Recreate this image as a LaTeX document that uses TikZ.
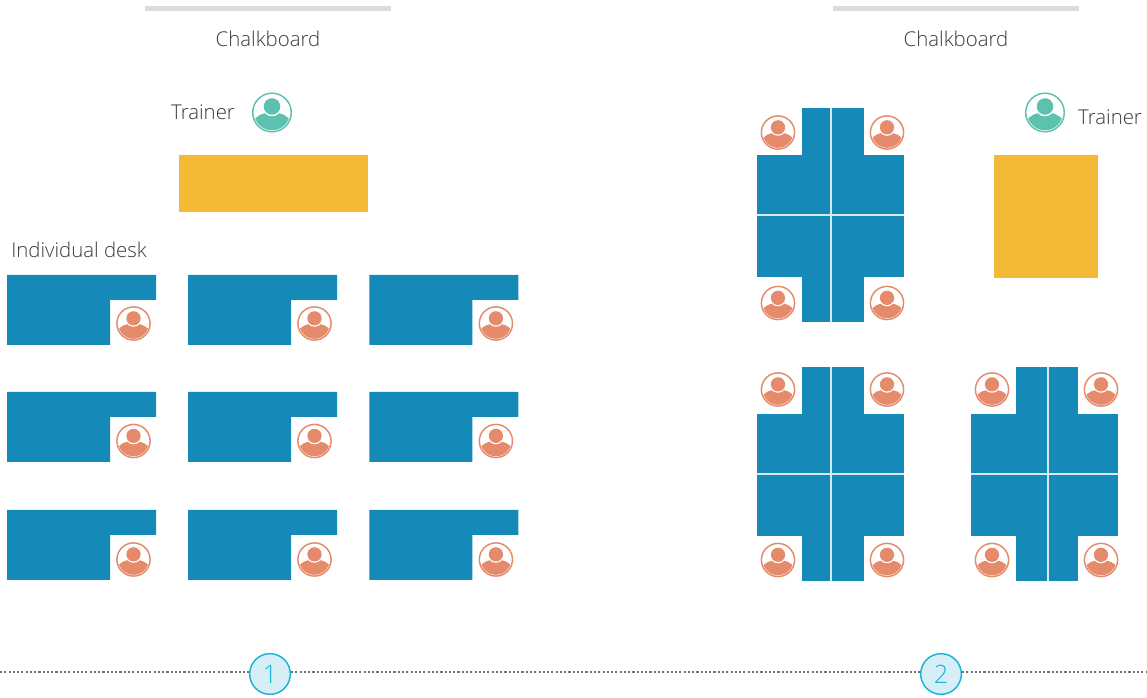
\documentclass[tikz,border=0pt]{standalone}
\usepackage{fontspec}
\setmainfont{Open Sans}[UprightFont=* Light]
\definecolor{deskblue}{HTML}{1589B8}
\definecolor{trainerdesk}{HTML}{F4BA36}
\definecolor{salmon}{HTML}{E58A6B}
\definecolor{teal}{HTML}{5CC1AE}
\definecolor{board}{HTML}{DCDCDC}
\definecolor{txt}{HTML}{3A3A3A}
\definecolor{cyanline}{HTML}{19B5D6}
\definecolor{cyanfill}{HTML}{D6EEF6}
\tikzset{
  lbl/.style={font=\fontsize{15.3}{18}\selectfont,text=txt,inner sep=0pt},
  person/.pic={
    \draw[line width=1.1pt,draw=pcol,fill=white] (0,0) circle[radius=19.3];
    \begin{scope}
      \clip (0,0) circle[radius=17.8];
      \fill[pcol] (-24,24) -- (-20,10) .. controls (-16,3) and (-9,0) .. (0,0) .. controls (9,0) and (16,3) .. (20,10) -- (24,24) -- cycle;
    \end{scope}
    \fill[white] (0,-6) circle[radius=9.8];
    \fill[pcol] (0,-6) circle[radius=8.3];
  },
  sal/.style={scale=.86,/utils/exec={\colorlet{pcol}{salmon}}},
  tea/.style={/utils/exec={\colorlet{pcol}{teal}}},
  numc/.style={circle,draw=cyanline,fill=cyanfill,line width=1.1pt,minimum size=30.5pt,inner sep=0pt,text=cyanline,font=\fontsize{19}{22}\selectfont},
  dotline/.style={dash pattern=on 1.6pt off 1.6pt,draw=black!55,line width=.8pt},
  wline/.style={draw=white!82!deskblue,line width=1.3pt},
}
\newcommand{\desk}[2]{%
  \fill[deskblue] (#1,#2) -- ++(149,0) -- ++(0,25) -- ++(-46,0) -- ++(0,45) -- ++(-103,0) -- cycle;
}
\newcommand{\cluster}[5]{% x y whiteline-x person-top-y person-bottom-y
  \fill[deskblue] (#1+45,#2) rectangle (#1+107,#2+214);
  \fill[deskblue] (#1,#2+47) rectangle (#1+147,#2+169);
  \draw[wline] (#3,#2) -- (#3,#2+214);
  \draw[wline] (#1,#2+107) -- (#1+147,#2+107);
  \pic[sal] at (#1+21,#4) {person};
  \pic[sal] at (#1+130,#4) {person};
  \pic[sal] at (#1+21,#5) {person};
  \pic[sal] at (#1+130,#5) {person};
}
\begin{document}
\begin{tikzpicture}[x=0.75pt,y=-0.75pt]
\useasboundingbox (0,0) rectangle (1147,698);
% chalkboards
\fill[board] (145,6) rectangle (391,11);
\fill[board] (833,6) rectangle (1079,11);
\node[lbl] (c1) at (268,39) {Chalkboard};
\node[lbl] (c2) at (956,39) {Chalkboard};
% trainers
\node[lbl] (t1) at (203,112) {Trainer};
\node[lbl] (t2) at (1110,117) {Trainer};
\pic[tea] at (272,112.5) {person};
\pic[tea] at (1045,112.5) {person};
% trainer desks
\fill[trainerdesk] (179,155) rectangle (368,212);
\fill[trainerdesk] (994,155) rectangle (1098,278);
% individual desks
\node[lbl,anchor=west] (ind) at (11,250) {Individual desk};
\foreach \x in {7,188,369.4}{
  \desk{\x}{275}\desk{\x}{392}\desk{\x}{510}
  \pic[sal] at (\x+126.5,323.5) {person};
  \pic[sal] at (\x+126.5,441) {person};
  \pic[sal] at (\x+126.5,559.5) {person};
}
% clusters
\cluster{757}{108}{831}{132.5}{303}
\cluster{757}{367}{831}{389.5}{560}
\cluster{971}{367}{1048}{389.5}{560}
% timeline
\node[numc] (n1) at (270,674) {1};
\node[numc] (n2) at (941,674) {2};
\coordinate (l) at (0,672);
\coordinate (r) at (1147,672);
\draw[dotline] (l) -- (l-|n1.west);
\draw[dotline] (n1.east|-l) -- (n2.west|-l);
\draw[dotline] (n2.east|-l) -- (r);
\end{tikzpicture}
\end{document}
